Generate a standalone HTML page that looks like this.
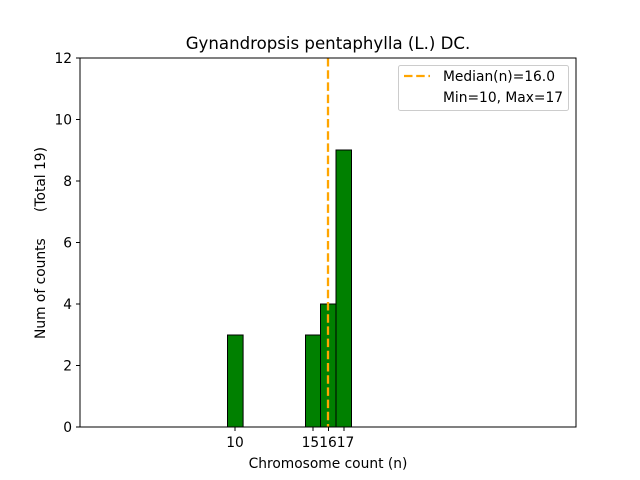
<!DOCTYPE html><html><head><style>body{margin:0;background:#fff}svg{display:block}text{font-family:"DejaVu Sans","Liberation Sans",sans-serif;fill:#000}</style></head><body>
<svg width="640" height="480" xmlns="http://www.w3.org/2000/svg">
<rect width="640" height="480" fill="#fff"/>
<text x="328" y="49" font-size="16.6" text-anchor="middle">Gynandropsis pentaphylla (L.) DC.</text>
<line x1="80" y1="427" x2="398" y2="427" stroke="#000" stroke-width="1"/>
<g fill="#008000" stroke="#000" stroke-width="1">
<rect x="227.5" y="335" width="15.6" height="92"/>
<rect x="305.5" y="335" width="15" height="92"/>
<rect x="320.5" y="304" width="15.5" height="123"/>
<rect x="336" y="150" width="15.5" height="277"/>
</g>
<line x1="328" y1="58" x2="328" y2="427" stroke="#FFA500" stroke-width="2.3" stroke-dasharray="8.5,3.7"/>
<rect x="80" y="58" width="496" height="369" fill="none" stroke="#000" stroke-width="1"/>
<g stroke="#000" stroke-width="1">
<line x1="80" y1="427" x2="76" y2="427"/><line x1="80" y1="365.5" x2="76" y2="365.5"/><line x1="80" y1="304" x2="76" y2="304"/><line x1="80" y1="242.5" x2="76" y2="242.5"/><line x1="80" y1="181" x2="76" y2="181"/><line x1="80" y1="119.5" x2="76" y2="119.5"/><line x1="80" y1="58" x2="76" y2="58"/>
<line x1="235" y1="427" x2="235" y2="431"/><line x1="313" y1="427" x2="313" y2="431"/><line x1="328.5" y1="427" x2="328.5" y2="431"/><line x1="344" y1="427" x2="344" y2="431"/>
</g>
<g font-size="13.8" text-anchor="end">
<text x="72" y="432">0</text><text x="72" y="370.5">2</text><text x="72" y="309">4</text><text x="72" y="247.5">6</text><text x="72" y="186">8</text><text x="72" y="124.5">10</text><text x="72" y="63">12</text>
</g>
<g font-size="13.8" text-anchor="middle">
<text x="235" y="447">10</text><text x="328" y="447">151617</text>
<text x="328" y="468">Chromosome count (n)</text>
</g>
<text transform="translate(45,243) rotate(-90)" font-size="13.8" text-anchor="middle" xml:space="preserve">Num of counts      (Total 19)</text>
<rect x="398.5" y="65.5" width="170" height="45" rx="2" fill="#fff" stroke="#ccc" stroke-width="1"/>
<line x1="404" y1="76" x2="430" y2="76" stroke="#FFA500" stroke-width="2.3" stroke-dasharray="8.5,3.7"/>
<text x="443" y="81" font-size="13.8">Median(n)=16.0</text>
<text x="443" y="102" font-size="13.8">Min=10, Max=17</text>
</svg></body></html>
